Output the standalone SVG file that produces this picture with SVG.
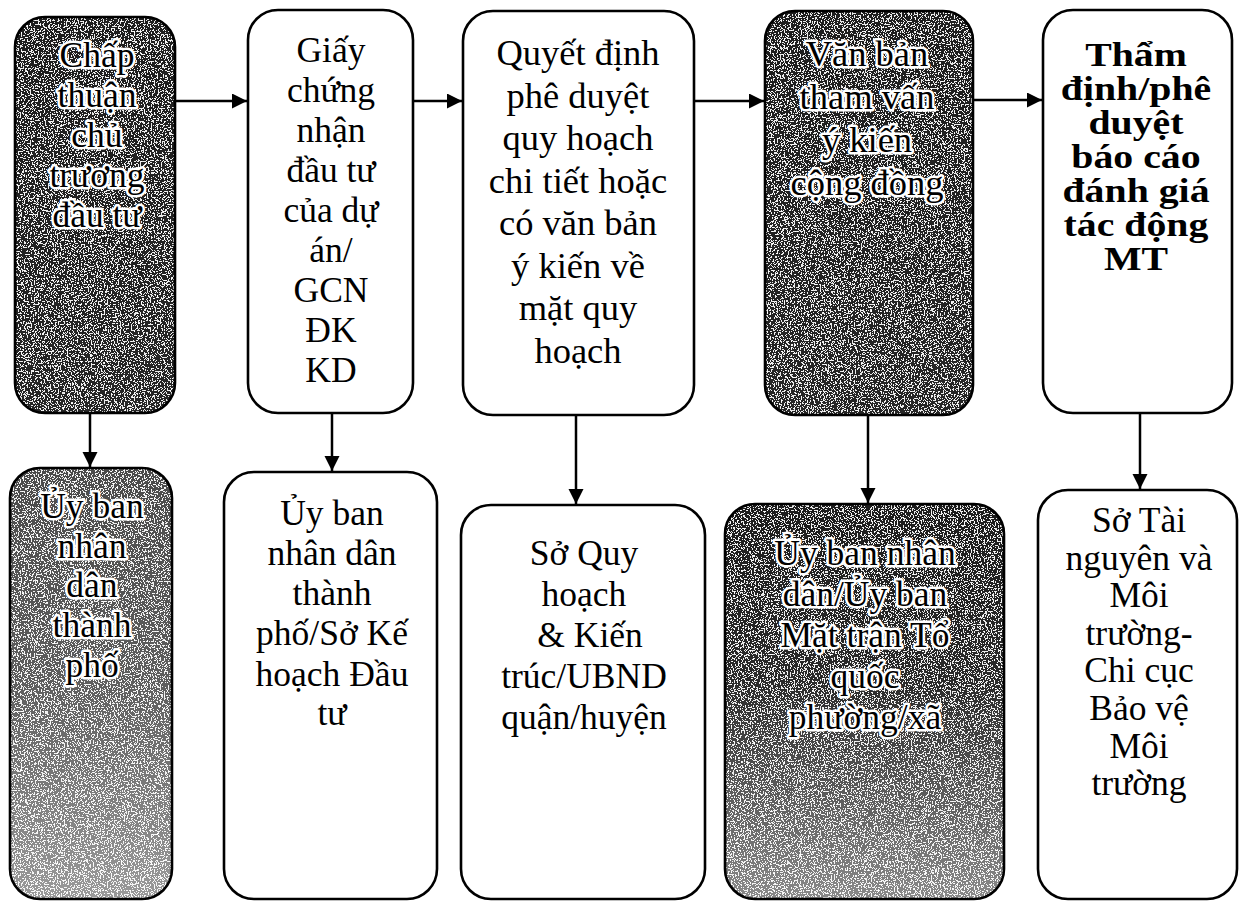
<svg xmlns="http://www.w3.org/2000/svg" width="1239" height="901" viewBox="0 0 1239 901">
<style>
.box{fill:none;stroke:#000;stroke-width:2.6}
.wb{fill:#fff}
.t{font-family:"Liberation Serif","Times New Roman",serif;font-size:35.5px;fill:#000;text-anchor:middle}
.b{font-family:"Liberation Serif","Times New Roman",serif;font-size:34px;font-weight:bold;fill:#000;text-anchor:middle}
.h{stroke:#fff;stroke-width:5px;stroke-linejoin:round;paint-order:stroke}
.c{fill:none;stroke:#000;stroke-width:2.5}
</style>
<defs>
<marker id="ah" markerUnits="userSpaceOnUse" markerWidth="16" markerHeight="16" refX="15" refY="7.5" orient="auto">
<path d="M0,0 L15,7.5 L0,15 z" fill="#000"/>
</marker>
<filter id="spk" x="0" y="0" width="100%" height="100%">
<feTurbulence type="fractalNoise" baseFrequency="0.7" numOctaves="3" seed="4" result="n"/>
<feColorMatrix in="n" type="matrix" values="0 0 0 0 1  0 0 0 0 1  0 0 0 0 1  1.6 0 0 0 -0.3" result="a"/>
<feComponentTransfer in="a"><feFuncA type="discrete" tableValues="0 0 0 0.9 1"/></feComponentTransfer>
<feComposite in2="SourceGraphic" operator="in"/>
</filter>
<linearGradient id="gTop" x1="0" y1="0" x2="0" y2="1">
<stop offset="0" stop-color="#1e1e1e"/><stop offset="1" stop-color="#262626"/>
</linearGradient>
<linearGradient id="gB1" x1="0" y1="0" x2="0" y2="1">
<stop offset="0" stop-color="#4a4a4a"/><stop offset="0.5" stop-color="#5e5e5e"/><stop offset="1" stop-color="#9a9a9a"/>
</linearGradient>
<linearGradient id="gB4" x1="0" y1="0" x2="0" y2="1">
<stop offset="0" stop-color="#1c1c1c"/><stop offset="0.45" stop-color="#2a2a2a"/><stop offset="1" stop-color="#8a8a8a"/>
</linearGradient>
</defs>
<rect width="1239" height="901" fill="#fff"/>

<g id="connectors">
<line class="c" x1="175" y1="101" x2="247" y2="101" marker-end="url(#ah)"/>
<line class="c" x1="413" y1="101" x2="462" y2="101" marker-end="url(#ah)"/>
<line class="c" x1="694" y1="101" x2="764" y2="101" marker-end="url(#ah)"/>
<line class="c" x1="973" y1="100" x2="1042" y2="100" marker-end="url(#ah)"/>
<line class="c" x1="90" y1="413" x2="90" y2="467" marker-end="url(#ah)"/>
<line class="c" x1="332" y1="413" x2="332" y2="471" marker-end="url(#ah)"/>
<line class="c" x1="576" y1="415" x2="576" y2="504" marker-end="url(#ah)"/>
<line class="c" x1="868" y1="415" x2="868" y2="503" marker-end="url(#ah)"/>
<line class="c" x1="1140" y1="413" x2="1140" y2="489" marker-end="url(#ah)"/>
</g>

<g id="n1">
<rect x="15" y="17" width="160" height="396" rx="30" fill="url(#gTop)"/>
<rect x="15" y="17" width="160" height="396" rx="30" fill="#000" filter="url(#spk)"/>
<rect class="box" x="15" y="17" width="160" height="396" rx="30"/>
<text class="t h" x="97"><tspan x="97" y="67">Chấp</tspan><tspan x="97" y="107">thuận</tspan><tspan x="97" y="147">chủ</tspan><tspan x="97" y="187">trương</tspan><tspan x="97" y="227">đầu tư</tspan></text>
</g>

<g id="n2">
<rect class="box wb" x="248" y="10" width="165" height="403" rx="30"/>
<text class="t" x="331"><tspan x="331" y="62">Giấy</tspan><tspan x="331" y="102">chứng</tspan><tspan x="331" y="142">nhận</tspan><tspan x="331" y="182">đầu tư</tspan><tspan x="331" y="222">của dự</tspan><tspan x="331" y="262">án/</tspan><tspan x="331" y="302">GCN</tspan><tspan x="331" y="342">ĐK</tspan><tspan x="331" y="382">KD</tspan></text>
</g>

<g id="n3">
<rect class="box wb" x="463" y="11" width="231" height="404" rx="30"/>
<text class="t" x="578" style="font-size:36.5px"><tspan x="578" y="65">Quyết định</tspan><tspan x="578" y="107.5">phê duyệt</tspan><tspan x="578" y="150">quy hoạch</tspan><tspan x="578" y="192.5">chi tiết hoặc</tspan><tspan x="578" y="235">có văn bản</tspan><tspan x="578" y="277.5">ý kiến về</tspan><tspan x="578" y="320">mặt quy</tspan><tspan x="578" y="362.5">hoạch</tspan></text>
</g>

<g id="n4">
<rect x="765" y="11" width="208" height="404" rx="30" fill="url(#gTop)"/>
<rect x="765" y="11" width="208" height="404" rx="30" fill="#000" filter="url(#spk)"/>
<rect class="box" x="765" y="11" width="208" height="404" rx="30"/>
<text class="t h" x="867" style="font-size:36.5px"><tspan x="867" y="66">Văn bản</tspan><tspan x="867" y="109">tham vấn</tspan><tspan x="867" y="152">ý kiến</tspan><tspan x="867" y="195">cộng đồng</tspan></text>
</g>

<g id="n5">
<rect class="box wb" x="1043" y="10" width="189" height="403" rx="30"/>
<text class="b" transform="translate(1136 0) scale(1.17 1)" x="0"><tspan x="0" y="66">Thẩm</tspan><tspan x="0" y="100">định/phê</tspan><tspan x="0" y="134">duyệt</tspan><tspan x="0" y="168">báo cáo</tspan><tspan x="0" y="202">đánh giá</tspan><tspan x="0" y="236">tác động</tspan><tspan x="0" y="270">MT</tspan></text>
</g>

<g id="m1">
<rect x="10" y="468" width="162" height="431" rx="30" fill="url(#gB1)"/>
<rect x="10" y="468" width="162" height="431" rx="30" fill="#000" filter="url(#spk)"/>
<rect class="box" x="10" y="468" width="162" height="431" rx="30"/>
<text class="t h" x="92"><tspan x="92" y="518">Ủy ban</tspan><tspan x="92" y="558">nhân</tspan><tspan x="92" y="597">dân</tspan><tspan x="92" y="637">thành</tspan><tspan x="92" y="677">phố</tspan></text>
</g>

<g id="m2">
<rect class="box wb" x="224" y="472" width="213" height="427" rx="30"/>
<text class="t" x="332"><tspan x="332" y="525">Ủy ban</tspan><tspan x="332" y="565">nhân dân</tspan><tspan x="332" y="605">thành</tspan><tspan x="332" y="645">phố/Sở Kế</tspan><tspan x="332" y="686">hoạch Đầu</tspan><tspan x="332" y="725">tư</tspan></text>
</g>

<g id="m3">
<rect class="box wb" x="461" y="505" width="244" height="394" rx="30"/>
<text class="t" x="584"><tspan x="584" y="565">Sở Quy</tspan><tspan x="584" y="606">hoạch</tspan><tspan x="590" y="647">&amp; Kiến</tspan><tspan x="584" y="688">trúc/UBND</tspan><tspan x="584" y="729">quận/huyện</tspan></text>
</g>

<g id="m4">
<rect x="725" y="504" width="279" height="395" rx="30" fill="url(#gB4)"/>
<rect x="725" y="504" width="279" height="395" rx="30" fill="#000" filter="url(#spk)"/>
<rect class="box" x="725" y="504" width="279" height="395" rx="30"/>
<text class="t h" x="865"><tspan x="865" y="565">Ủy ban nhân</tspan><tspan x="865" y="606">dân/Ủy ban</tspan><tspan x="865" y="647">Mặt trận Tổ</tspan><tspan x="865" y="688">quốc</tspan><tspan x="865" y="729">phường/xã</tspan></text>
</g>

<g id="m5">
<rect class="box wb" x="1038" y="490" width="199" height="409" rx="30"/>
<text class="t" x="1139"><tspan x="1139" y="532">Sở Tài</tspan><tspan x="1139" y="570">nguyên và</tspan><tspan x="1139" y="607">Môi</tspan><tspan x="1139" y="645">trường-</tspan><tspan x="1139" y="682">Chi cục</tspan><tspan x="1139" y="720">Bảo vệ</tspan><tspan x="1139" y="758">Môi</tspan><tspan x="1139" y="795">trường</tspan></text>
</g>
</svg>
